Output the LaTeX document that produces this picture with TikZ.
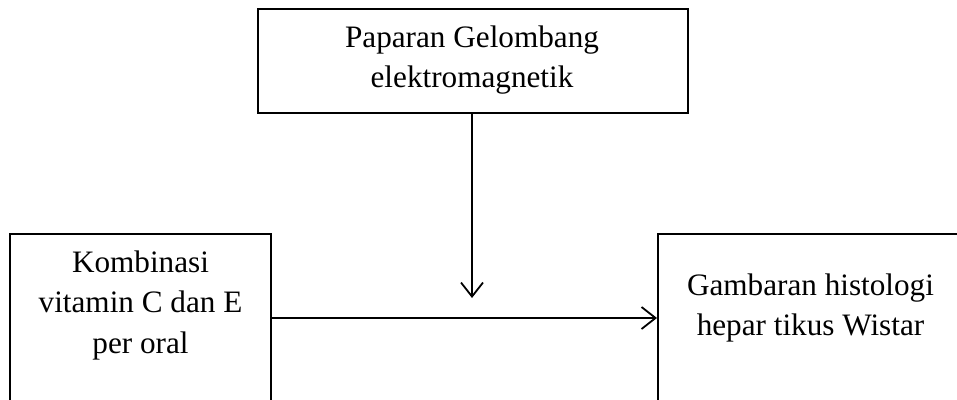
\documentclass[tikz,border=0pt]{standalone}
\usepackage{fontspec}
\setmainfont{Liberation Serif}
\usetikzlibrary{arrows.meta}
\begin{document}
\begin{tikzpicture}[x=1pt,y=-1pt,
  boxstyle/.style={draw=black, line width=2.2pt, inner sep=0pt},
  txt/.style={font=\fontsize{31.2}{40.5}\selectfont, align=center, inner sep=0pt},
  arr/.style={line width=1.8pt, -{Straight Barb[length=14pt,width=22pt,line width=1.8pt]}}]
\useasboundingbox (0,0) rectangle (957,399);
\fill[white] (0,0) rectangle (957,399);
% top box
\node[boxstyle, anchor=north west, minimum width=430pt, minimum height=104pt] (t) at (257,8) {};
\node[txt, anchor=north] (tt) at (472,25.5) {Paparan Gelombang\\elektromagnetik};
% left box
\node[boxstyle, anchor=north west, minimum width=261pt, minimum height=220pt] (l) at (9,233) {};
\node[txt, anchor=north] (lt) at (140.5,250.5) {Kombinasi\\vitamin C dan E\\per oral};
% right box
\node[boxstyle, anchor=north west, minimum width=310pt, minimum height=220pt] (r) at (657,233) {};
\node[txt, anchor=north] (rt) at (810.5,273.5) {Gambaran histologi\\hepar tikus Wistar};
% connectors
\coordinate (hy) at (0,318);
\coordinate (vend) at (472,298);
\draw[arr] (l.east |- hy) -- (r.west |- hy);
\draw[arr] (t.south -| vend) -- (vend);
\end{tikzpicture}
\end{document}
